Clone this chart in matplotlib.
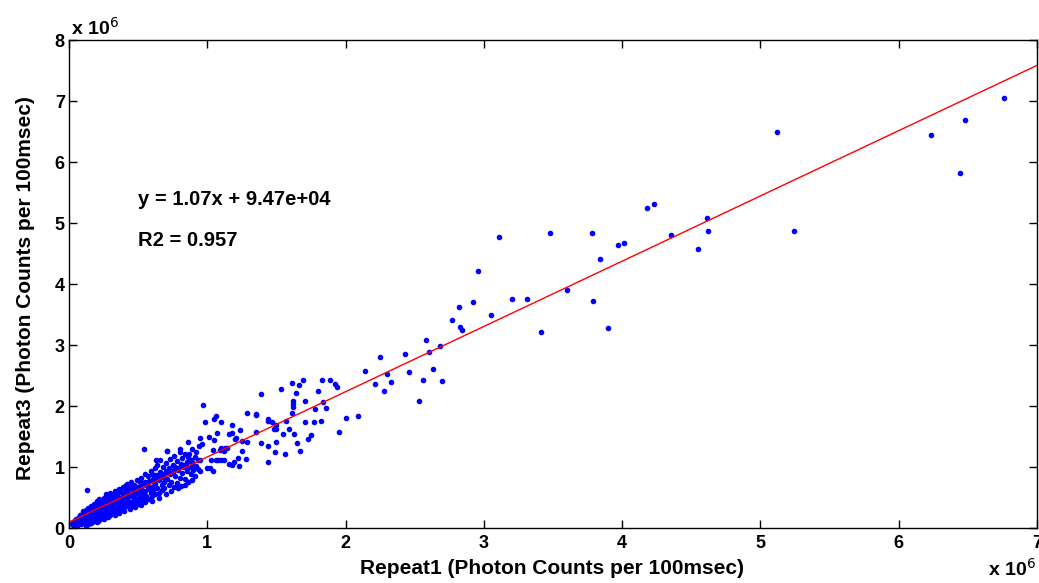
import numpy as np
import matplotlib
matplotlib.use("Agg")
import matplotlib.pyplot as plt

plt.rcParams['font.family'] = ['Liberation Sans', 'DejaVu Sans']

# punten in eenheden van 1e6 fotontellingen per 100 msec
# dichte wolk bij de oorsprong (geschat)
x_dense = [0.02, 0.03, 0.03, 0.04, 0.04, 0.05, 0.05, 0.06, 0.06, 0.06,
           0.07, 0.07, 0.08, 0.08, 0.09, 0.09, 0.10, 0.10, 0.10, 0.11, 0.11, 0.12, 0.12, 0.12,
           0.13, 0.13, 0.13, 0.14, 0.14, 0.15, 0.15, 0.15, 0.16, 0.16, 0.17, 0.17, 0.17, 0.18, 0.18,
           0.19, 0.19, 0.20, 0.20, 0.20, 0.21, 0.21, 0.22, 0.22, 0.22, 0.23, 0.23, 0.24, 0.24, 0.24,
           0.25, 0.25, 0.26, 0.26, 0.26, 0.27, 0.27, 0.28, 0.28, 0.28, 0.29, 0.29, 0.30, 0.30, 0.30,
           0.31, 0.31, 0.32, 0.32, 0.33, 0.33, 0.33, 0.34, 0.34, 0.35, 0.35, 0.35, 0.36, 0.36, 0.36,
           0.37, 0.37, 0.38, 0.38, 0.38, 0.39, 0.39, 0.40, 0.40, 0.40, 0.41, 0.41, 0.42, 0.42, 0.42,
           0.43, 0.43, 0.44, 0.44, 0.45, 0.45, 0.45, 0.46, 0.46, 0.47, 0.47, 0.48, 0.48, 0.48,
           0.49, 0.49, 0.50, 0.50, 0.51, 0.51, 0.52, 0.52, 0.53, 0.53, 0.54, 0.54, 0.55, 0.55, 0.54,
           0.56, 0.56, 0.57, 0.57, 0.58, 0.58, 0.59, 0.59, 0.60, 0.60, 0.61, 0.61, 0.62, 0.62, 0.62,
           0.63, 0.64, 0.64, 0.65, 0.65, 0.66, 0.66, 0.67, 0.67, 0.68, 0.68, 0.69, 0.69, 0.70, 0.70,
           0.71, 0.71, 0.72, 0.72, 0.73, 0.73, 0.74, 0.75, 0.75, 0.76, 0.76, 0.77, 0.77, 0.78, 0.78,
           0.79, 0.80, 0.80, 0.81, 0.81, 0.82, 0.82, 0.83, 0.84, 0.84, 0.85, 0.85, 0.86, 0.86, 0.86,
           0.87, 0.87, 0.88, 0.88, 0.89, 0.89, 0.90, 0.90, 0.91, 0.91, 0.92, 0.92, 0.93, 0.93, 0.94,
           0.03, 0.04, 0.05, 0.06, 0.07, 0.08, 0.09, 0.10, 0.11, 0.12, 0.13, 0.14, 0.15, 0.16, 0.17,
           0.18, 0.19, 0.20, 0.21, 0.22, 0.23, 0.24, 0.25, 0.26, 0.27, 0.28, 0.29, 0.30, 0.31, 0.32,
           0.34, 0.36, 0.38, 0.40, 0.42, 0.44, 0.46, 0.50, 0.53, 0.57, 0.60, 0.63, 0.66, 0.69, 0.72,
           0.76, 0.80, 0.84, 0.89, 0.80, 0.86, 0.78, 0.71, 0.63,
           0.05, 0.07, 0.08, 0.09, 0.10, 0.11, 0.12, 0.13, 0.14, 0.15, 0.16, 0.17, 0.18, 0.19, 0.20,
           0.21, 0.22, 0.23, 0.24, 0.25, 0.26, 0.27, 0.28, 0.30, 0.32, 0.33, 0.35, 0.37, 0.39, 0.41,
           0.43, 0.45, 0.47, 0.49, 0.51, 0.52, 0.55, 0.58, 0.60,
           0.12, 0.14, 0.16, 0.18, 0.20, 0.22, 0.25, 0.28, 0.30, 0.33, 0.36, 0.40, 0.44, 0.48, 0.52,
           0.55, 0.60, 0.65, 0.70, 0.74, 0.79, 0.84]
y_dense = [0.07, 0.10, 0.05, 0.08, 0.13, 0.06, 0.11, 0.09, 0.15, 0.04,
           0.07, 0.12, 0.18, 0.10, 0.06, 0.14, 0.09, 0.21, 0.25, 0.12, 0.17, 0.08, 0.22, 0.14,
           0.11, 0.19, 0.63, 0.26, 0.15, 0.09, 0.20, 0.31, 0.13, 0.24, 0.18, 0.28, 0.10, 0.22, 0.34,
           0.15, 0.26, 0.20, 0.31, 0.38, 0.12, 0.24, 0.29, 0.18, 0.41, 0.22, 0.34, 0.27, 0.16, 0.45,
           0.30, 0.21, 0.36, 0.25, 0.48, 0.19, 0.32, 0.40, 0.27, 0.52, 0.23, 0.35, 0.30, 0.44, 0.57,
           0.26, 0.38, 0.33, 0.49, 0.29, 0.42, 0.60, 0.36, 0.24, 0.46, 0.32, 0.55, 0.40, 0.28, 0.64,
           0.35, 0.50, 0.44, 0.31, 0.58, 0.38, 0.68, 0.47, 0.34, 0.55, 0.41, 0.62, 0.36, 0.50, 0.72,
           0.45, 0.57, 0.39, 0.66, 0.52, 0.43, 0.76, 0.60, 0.37, 0.49, 0.70, 0.55, 0.42, 0.64,
           0.47, 0.78, 0.59, 0.40, 0.68, 0.52, 0.45, 0.82, 0.63, 0.55, 0.73, 0.48, 0.60, 0.88, 1.29,
           0.52, 0.70, 0.64, 0.85, 0.47, 0.77, 0.58, 0.93, 0.68, 0.52, 0.80, 0.62, 0.98, 0.55, 0.72,
           0.87, 0.66, 1.04, 0.58, 0.78, 0.92, 1.12, 0.70, 0.62, 0.84, 1.00, 0.75, 0.66, 0.93, 1.07,
           1.27, 0.80, 0.70, 0.98, 0.88, 1.13, 0.76, 1.04, 0.92, 0.68, 1.18, 0.85, 1.00, 0.74, 1.10,
           0.95, 1.29, 0.82, 1.05, 0.69, 1.15, 0.90, 1.00, 1.22, 0.80, 1.08, 0.93, 1.41, 0.76, 1.17,
           1.00, 1.21, 0.88, 1.12, 0.79, 1.30, 1.04, 0.95, 1.16, 0.85, 1.25, 1.02, 0.96, 1.12, 1.34,
           0.08, 0.10, 0.08, 0.12, 0.10, 0.13, 0.11, 0.15, 0.14, 0.18, 0.16, 0.20, 0.17, 0.20, 0.22,
           0.27, 0.21, 0.25, 0.29, 0.24, 0.28, 0.32, 0.26, 0.30, 0.35, 0.33, 0.38, 0.36, 0.42, 0.39,
           0.44, 0.46, 0.49, 0.52, 0.56, 0.54, 0.58, 0.64, 0.70, 0.74, 0.77, 0.81, 0.86, 0.89, 0.91,
           0.95, 1.00, 1.04, 1.08, 1.24, 0.76, 0.67, 1.27, 1.11,
           0.15, 0.18, 0.22, 0.20, 0.28, 0.24, 0.30, 0.27, 0.33, 0.26, 0.36, 0.31, 0.40, 0.35, 0.44,
           0.38, 0.47, 0.42, 0.38, 0.50, 0.43, 0.55, 0.46, 0.50, 0.56, 0.52, 0.60, 0.62, 0.58, 0.70,
           0.66, 0.72, 0.60, 0.68, 0.75, 0.62, 0.76, 0.66, 0.88,
           0.04, 0.07, 0.08, 0.12, 0.10, 0.13, 0.15, 0.18, 0.21, 0.22, 0.25, 0.28, 0.31, 0.35, 0.38,
           0.42, 0.45, 0.50, 0.55, 0.60, 0.66, 0.70]

# middengebied 1..2 miljoen
x_mid = [0.97, 0.98, 0.95, 0.96, 0.95, 0.95, 1.01, 1.00, 1.02, 1.04, 1.03, 1.04, 1.05, 1.06,
         1.07, 1.08, 1.09, 1.10, 1.10, 1.05, 1.06, 1.10, 1.12, 1.12, 1.13, 1.14, 1.16, 1.16,
         1.18, 1.18, 1.18, 1.19, 1.20, 1.21, 1.22, 1.23, 1.24, 1.25, 1.25, 1.28, 1.29, 1.29,
         1.35, 1.35, 1.35, 1.39, 1.39, 1.44, 1.44, 1.44, 1.44, 1.47, 1.48, 1.49, 1.50, 1.50,
         1.50, 1.53, 1.55, 1.56, 1.57, 1.59, 1.61, 1.61, 1.62, 1.62, 1.62, 1.63, 1.64, 1.65,
         1.66, 1.67, 1.69, 1.71, 1.71, 1.73, 1.75, 1.77, 1.78, 1.80, 1.82, 1.83, 1.84, 1.86,
         1.89, 1.92, 1.94, 1.95, 2.00, 2.09]
y_mid = [2.02, 1.73, 1.47, 1.38, 1.12, 0.93, 1.50, 0.99, 0.98, 0.93, 1.12, 1.28, 1.44, 1.12,
         1.55, 1.12, 1.28, 1.74, 1.12, 1.79, 1.83, 1.32, 1.12, 1.27, 1.31, 1.31, 1.54, 1.05,
         1.56, 1.69, 1.03, 1.09, 1.46, 1.48, 1.14, 1.01, 1.60, 1.42, 1.27, 1.13, 1.41, 1.88,
         1.58, 1.85, 1.87, 2.19, 1.40, 1.78, 1.08, 1.34, 1.75, 1.73, 1.62, 1.25, 1.69, 1.62,
         1.41, 2.28, 1.54, 1.21, 1.75, 1.63, 2.38, 1.88, 2.09, 2.04, 1.99, 1.54, 2.22, 1.39,
         2.35, 1.27, 2.42, 2.08, 1.74, 1.46, 1.53, 1.73, 1.95, 2.24, 1.75, 2.43, 2.06, 1.96,
         2.42, 2.36, 2.31, 1.57, 1.80, 1.84]

# verspreide punten boven 2 miljoen
x_sparse = [2.14, 2.21, 2.25, 2.28, 2.30, 2.33, 2.43, 2.46, 2.53, 2.56, 2.58, 2.60, 2.63,
            2.68, 2.70, 2.77, 2.82, 2.83, 2.84, 2.92, 2.96, 3.05, 3.11, 3.20, 3.31, 3.41,
            3.48, 3.60, 3.78, 3.79, 3.84, 3.90, 3.97, 4.01, 4.18, 4.23, 4.35, 4.55, 4.61,
            4.62, 5.12, 5.24, 6.23, 6.44, 6.48, 6.76]
y_sparse = [2.58, 2.36, 2.80, 2.24, 2.53, 2.40, 2.85, 2.55, 2.09, 2.43, 3.09, 2.88, 2.60,
            2.98, 2.41, 3.41, 3.62, 3.29, 3.24, 3.71, 4.22, 3.49, 4.77, 3.76, 3.75, 3.22,
            4.83, 3.90, 4.84, 3.73, 4.41, 3.28, 4.64, 4.68, 5.25, 5.32, 4.80, 4.57, 5.09,
            4.87, 6.49, 4.87, 6.45, 5.82, 6.69, 7.05]

slope = 1.07
intercept = 0.0947  # 9.47e+04 in miljoenen
r2 = 0.957

x = np.array(x_dense + x_mid + x_sparse)
y = np.array(y_dense + y_mid + y_sparse)

fig = plt.figure(figsize=(10.39, 5.83), dpi=100)
ax = fig.add_axes([0.0664, 0.0943, 0.9317, 0.837])

ax.plot(x, y, '.', color='blue', markersize=6, linestyle='none')
xl = np.array([0, 7])
ax.plot(xl, slope * xl + intercept, color='red', linewidth=1)

ax.set_xlim(0, 7)
ax.set_ylim(0, 8)
ax.set_xticks(range(0, 8))
ax.set_yticks(range(0, 9))
ax.tick_params(direction='in', length=6, width=1, top=True, right=True,
               labelsize=13)
ax.tick_params(axis='x', pad=5)
ax.tick_params(axis='y', pad=3)
for lab in ax.get_xticklabels() + ax.get_yticklabels():
    lab.set_fontweight('bold')
for s in ax.spines.values():
    s.set_linewidth(1)

ax.set_xlabel('Repeat1 (Photon Counts per 100msec)', fontsize=15, fontweight='bold')
ax.set_ylabel('Repeat3 (Photon Counts per 100msec)', fontsize=15, fontweight='bold')
ax.xaxis.set_label_coords(0.499, -0.064)
ax.yaxis.set_label_coords(-0.035, 0.492)

# x 10^6 bij beide assen
ax.text(0.002, 1.003, 'x 10$^{6}$', transform=ax.transAxes, fontsize=14,
        fontweight='bold', ha='left', va='bottom')
ax.text(0.999, -0.062, 'x 10$^{6}$', transform=ax.transAxes, fontsize=14,
        fontweight='bold', ha='right', va='top')

ax.text(0.50, 5.38, 'y = 1.07x + 9.47e+04', fontsize=14.5, fontweight='bold', va='center')
ax.text(0.50, 4.72, 'R2 = %.3f' % r2, fontsize=14.5, fontweight='bold', va='center')

fig.savefig('out.png', dpi=100)
